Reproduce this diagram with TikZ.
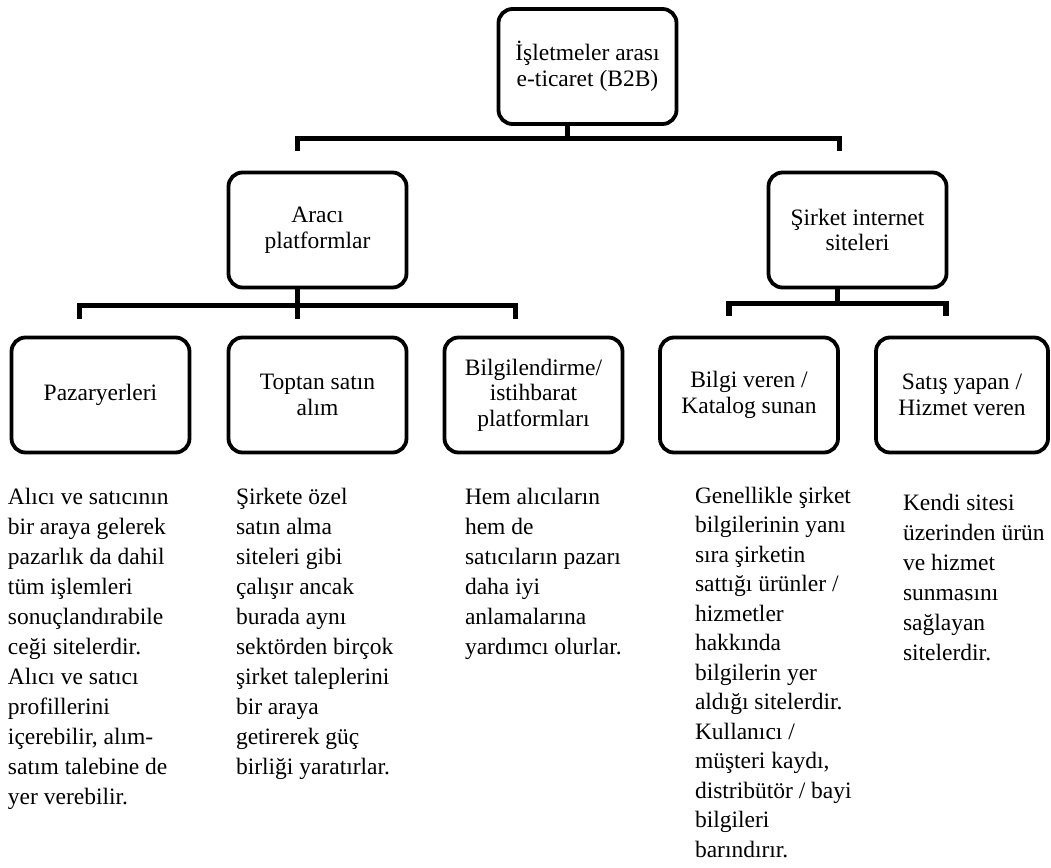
\documentclass[tikz,border=0pt]{standalone}
\usepackage{fontspec}
\setmainfont{Liberation Serif}
\newcommand\desctext[1]{\begin{tabular}[t]{@{}l@{}}#1\end{tabular}}
\begin{document}
\begin{tikzpicture}[x=1pt,y=-1pt,
  box/.style={draw=black, line width=3.8pt, rounded corners=14pt, minimum width=178pt,
    minimum height=115pt, align=center, inner sep=0pt, outer sep=0pt,
    font=\fontsize{23.5}{25.5}\selectfont},
  conn/.style={line width=5.5pt, draw=black},
  desc/.style={anchor=base west, inner sep=0pt, outer sep=0pt,
    font=\fontsize{23.5}{30}\selectfont}]
\useasboundingbox (0,0) rectangle (1051,867);
% boxes
\node[box] (top) at (587.5,66.5) {İşletmeler arası\\e-ticaret (B2B)};
\node[box] (arac) at (317.5,230) {Aracı\\platformlar};
\node[box] (sirket) at (857.5,230) {Şirket internet\\siteleri};
\node[box] (n1) at (100.5,395) {Pazaryerleri};
\node[box] (n2) at (317.5,395) {Toptan satın\\alım};
\node[box] (n3) at (533.5,395) {Bilgilendirme/\\istihbarat\\platformları};
\node[box] (n4) at (749,395) {Bilgi veren /\\Katalog sunan};
\node[box, minimum width=172pt] (n5) at (962,395) {Satış yapan /\\Hizmet veren};
% connectors level 1
\draw[conn] ([xshift=-20pt]top.south) -- ([xshift=-20pt,yshift=-13pt]top.south);
\draw[conn] ([xshift=-20pt,yshift=22pt]arac.north) -- ([xshift=-20pt,yshift=34pt]arac.north)
  -- ([xshift=-18pt,yshift=34pt]sirket.north) -- ([xshift=-18pt,yshift=22pt]sirket.north);
% connectors level 2 left
\draw[conn] ([xshift=-20pt]arac.south) -- ([xshift=-20pt,yshift=-17pt]arac.south);
\draw[conn] ([xshift=-21pt,yshift=19pt]n1.north) -- ([xshift=-21pt,yshift=32pt]n1.north)
  -- ([xshift=-18pt,yshift=32pt]n3.north) -- ([xshift=-18pt,yshift=19pt]n3.north);
\draw[conn] ([xshift=-20pt,yshift=19pt]n2.north) -- ([xshift=-20pt,yshift=32pt]n2.north);
% connectors level 2 right
\draw[conn] ([xshift=-20pt]sirket.south) -- ([xshift=-20pt,yshift=-15pt]sirket.south);
\draw[conn] ([xshift=-20pt,yshift=22pt]n4.north) -- ([xshift=-20pt,yshift=34pt]n4.north)
  -- ([xshift=-16pt,yshift=34pt]n5.north) -- ([xshift=-16pt,yshift=22pt]n5.north);
% descriptions
\node[desc] (d1) at (8,504) {\desctext{Alıcı ve satıcının\\bir araya gelerek\\pazarlık da dahil\\tüm işlemleri\\sonuçlandırabile\\ceği sitelerdir.\\Alıcı ve satıcı\\profillerini\\içerebilir, alım-\\satım talebine de\\yer verebilir.}};
\node[desc] (d2) at (236,504) {\desctext{Şirkete özel\\satın alma\\siteleri gibi\\çalışır ancak\\burada aynı\\sektörden birçok\\şirket taleplerini\\bir araya\\getirerek güç\\birliği yaratırlar.}};
\node[desc] (d3) at (465,504) {\desctext{Hem alıcıların\\hem de\\satıcıların pazarı\\daha iyi\\anlamalarına\\yardımcı olurlar.}};
\node[desc, font=\fontsize{23.5}{29.5}\selectfont] (d4) at (695,503) {\desctext{Genellikle şirket\\bilgilerinin yanı\\sıra şirketin\\sattığı ürünler /\\hizmetler\\hakkında\\bilgilerin yer\\aldığı sitelerdir.\\Kullanıcı /\\müşteri kaydı,\\distribütör / bayi\\bilgileri\\barındırır.}};
\node[desc] (d5) at (903,510) {\desctext{Kendi sitesi\\üzerinden ürün\\ve hizmet\\sunmasını\\sağlayan\\sitelerdir.}};
\end{tikzpicture}
\end{document}
